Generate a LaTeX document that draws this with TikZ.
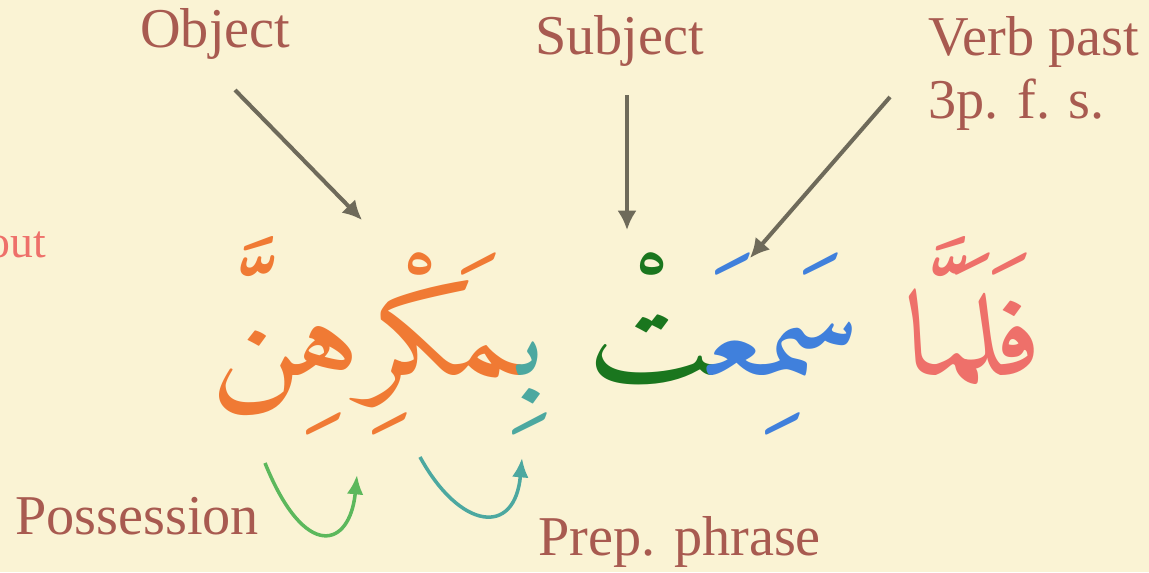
\documentclass[tikz,border=0pt]{standalone}
\usepackage{fontspec}
\setmainfont{Liberation Serif}
\IfFontExistsTF{Amiri}
  {\newfontfamily\arabicfont[Script=Arabic, FakeStretch=1.18]{Amiri}}
  {\newfontfamily\arabicfont[Script=Arabic]{DejaVu Sans}}
\usetikzlibrary{arrows.meta}

\definecolor{paper}{RGB}{250,243,212}
\definecolor{tagred}{RGB}{168,90,80}
\definecolor{pointergray}{RGB}{110,106,90}
\definecolor{wordpink}{RGB}{238,112,106}
\definecolor{wordblue}{RGB}{64,128,220}
\definecolor{wordgreen}{RGB}{26,118,30}
\definecolor{wordteal}{RGB}{76,168,160}
\definecolor{wordorange}{RGB}{240,122,52}
\definecolor{hookgreen}{RGB}{92,184,92}

\tikzset{
  tag/.style={text=tagred, font=\fontsize{32}{36}\selectfont, inner sep=0pt, anchor=base west},
  pointer/.style={-{Latex[length=11pt,width=11pt]}, line width=2.3pt, draw=pointergray},
  hook/.style={-{Latex[length=11pt,width=9.5pt]}, line width=2pt},
}

\begin{document}
\begin{tikzpicture}[x=0.02cm, y=-0.02cm]

\fill[paper] (0, 0) rectangle (1149, 572);
\clip (0, 0) rectangle (1149, 572);

%\draw[xstep=50,ystep=50,color=gray!80] (0, 0) grid (1149, 572);

\node[tag] (object) at (140, 47) {Object};
\node[tag] (subject) at (535, 54) {Subject};
\node[tag] (verb) at (928, 55) {Verb past};
\node[tag] (person) at (928, 118) {3p. f. s.};
\node[tag] (possession) at (15, 534) {Possession};
\node[tag] (prep) at (538, 555) {Prep. phrase};
\node[tag, text=wordpink, font=\fontsize{26}{30}\selectfont] (about) at (-13, 257) {out};

% words in visual order, left to right
\node[anchor=base, inner sep=0pt] (phrase) at (627, 375)
	{\arabicfont\fontsize{68}{80}\selectfont
	\textcolor{wordorange}{‍مَكْرِهِنَّ}\textcolor{wordteal}{بِ‍}
	\textcolor{wordgreen}{‍تْ}\textcolor{wordblue}{سَمِعَ‍}
	\textcolor{wordpink}{فَلَمَّا}};

\coordinate (objtail) at (235, 90);
\coordinate (objtip) at (362, 220);
\coordinate (subjtail) at (627, 95);
\coordinate (subjtip) at (627, 230);
\coordinate (verbtail) at (890, 97);
\coordinate (verbtip) at (750, 258);

\draw[pointer] (objtail) -- (objtip);
\draw[pointer] (subjtail) -- (subjtip);
\draw[pointer] (verbtail) -- (verbtip);

\coordinate (posstail) at (265, 463);
\coordinate (posstip) at (357, 475);
\coordinate (preptail) at (420, 457);
\coordinate (preptip) at (522, 458);

\draw[hook, hookgreen] (posstail) .. controls (305, 562) and (350, 548) .. (posstip);
\draw[hook, wordteal] (preptail) .. controls (460, 530) and (515, 537) .. (preptip);

\end{tikzpicture}
\end{document}
